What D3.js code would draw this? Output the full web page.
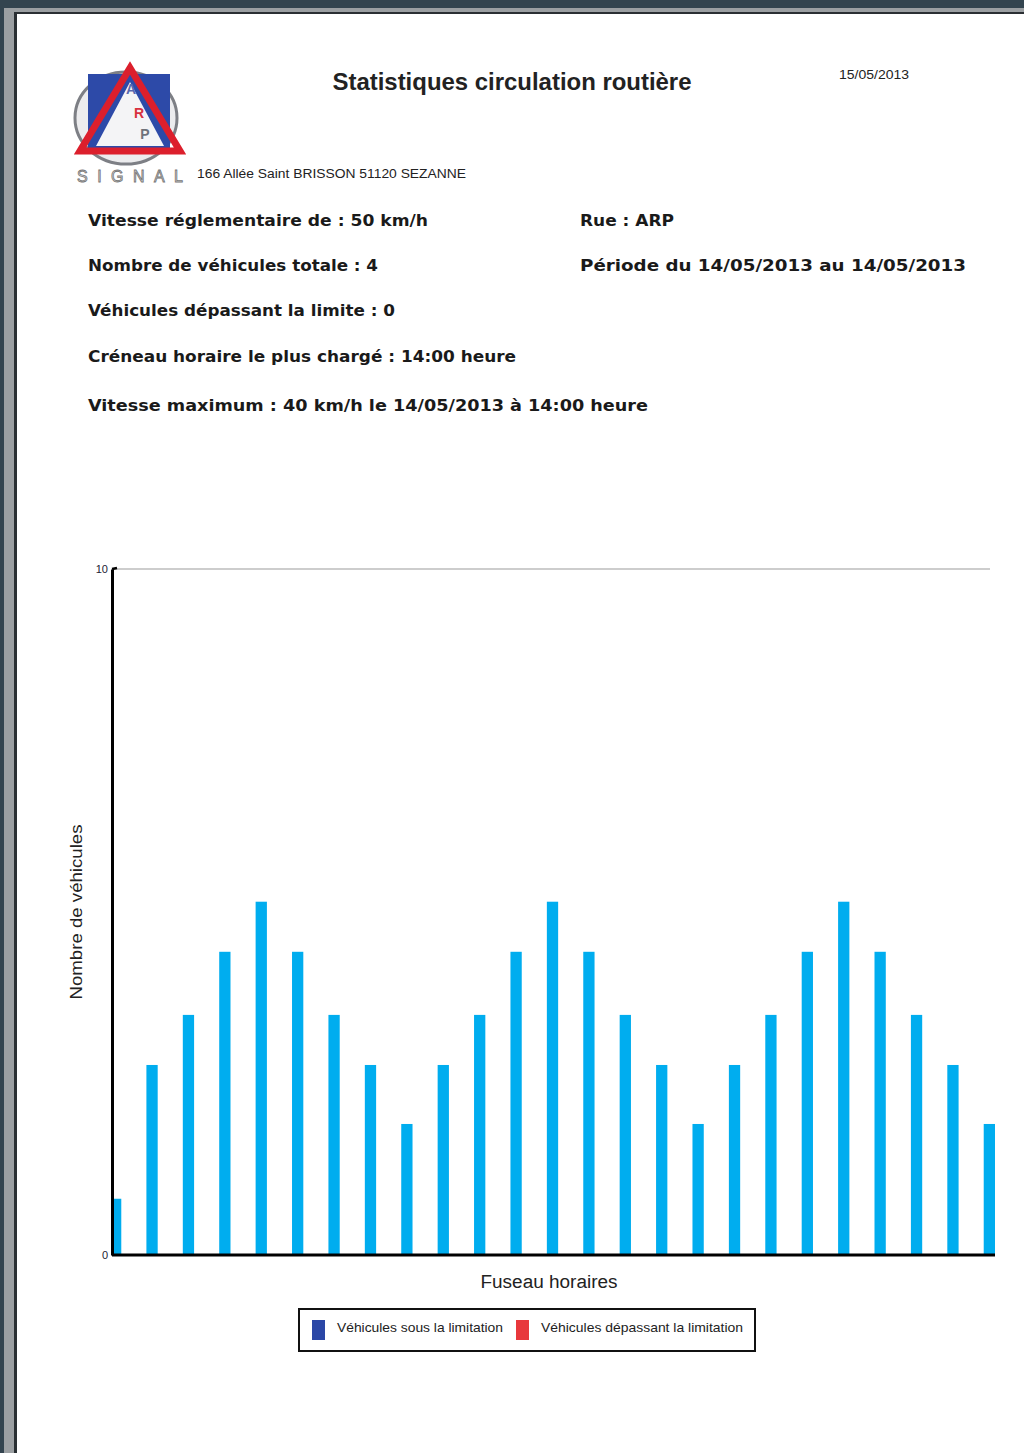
<!DOCTYPE html>
<html>
<head>
<meta charset="utf-8">
<script src="https://cdn.jsdelivr.net/npm/d3@7"></script>
<style>
  body { margin: 0; background: #33444f; }
  svg { display: block; }
</style>
</head>
<body>
<svg id="chart"></svg>
<script>
// hours of the day (fuseau horaire), one bar each
const hours = ['00h', '01h', '02h', '03h', '04h', '05h', '06h', '07h', '08h', '09h', '10h', '11h', '12h',
  '13h', '14h', '15h', '16h', '17h', '18h', '19h', '20h', '21h', '22h', '23h', '24h'];
// vehicles under the limit, per hour
const sousLimite = [0.82, 2.77, 3.5, 4.42, 5.15, 4.42, 3.5, 2.77, 1.91, 2.77, 3.5, 4.42, 5.15,
  4.42, 3.5, 2.77, 1.91, 2.77, 3.5, 4.42, 5.15, 4.42, 3.5, 2.77, 1.91];
const yTicks = [0, 10];

const infoLeft = [
  'Vitesse réglementaire de : 50 km/h',
  'Nombre de véhicules totale : 4',
  'Véhicules dépassant la limite : 0',
  'Créneau horaire le plus chargé : 14:00 heure',
  'Vitesse maximum : 40 km/h le 14/05/2013 à 14:00 heure'
];
const infoRight = ['Rue : ARP', 'Période du 14/05/2013 au 14/05/2013'];
const legendItems = [
  { label: 'Véhicules sous la limitation', color: '#2b47a6' },
  { label: 'Véhicules dépassant la limitation', color: '#e8383c' }
];

const width = 1024;
const height = 1453;

const svg = d3.select('#chart').attr('width', width).attr('height', height);

/* page frame */
svg.append('rect').attr('x', 4).attr('y', 8).attr('width', width).attr('height', height).attr('fill', '#9b9fa2');
svg.append('rect').attr('x', 14).attr('y', 12).attr('width', width).attr('height', height).attr('fill', '#2a2f33');
svg.append('rect').attr('x', 17).attr('y', 14).attr('width', width).attr('height', height).attr('fill', '#fff');

/* logo */
const logo = svg.append('g');
logo.append('ellipse').attr('cx', 126).attr('cy', 118).attr('rx', 51).attr('ry', 46)
  .attr('fill', '#ececee').attr('stroke', '#7d7f85').attr('stroke-width', 3);
logo.append('rect').attr('x', 88).attr('y', 74).attr('width', 82).attr('height', 74).attr('fill', '#2d4aa8');
logo.append('path').attr('d', 'M130,82 L96,146 L164,146 Z').attr('fill', '#f4f4f6');
logo.append('path').attr('d', 'M130,68 L80,151 L180,151 Z')
  .attr('fill', 'none').attr('stroke', '#dc1f2c').attr('stroke-width', 7).attr('stroke-linejoin', 'miter');
const letters = [
  { t: 'A', x: 131, y: 94, c: '#5868b0' },
  { t: 'R', x: 139, y: 118, c: '#d83040' },
  { t: 'P', x: 145, y: 139, c: '#6f727a' }
];
logo.selectAll('text.l').data(letters).join('text').attr('class', 'l')
  .attr('x', (d) => d.x).attr('y', (d) => d.y).text((d) => d.t)
  .attr('font-family', 'Liberation Sans, Arial').attr('font-weight', 'bold').attr('font-size', 14)
  .attr('text-anchor', 'middle').attr('fill', (d) => d.c);
logo.append('text').attr('x', 77).attr('y', 182).text('SIGNAL')
  .attr('font-family', 'Liberation Sans, Arial').attr('font-size', 16)
  .attr('fill', '#d8d8d8').attr('stroke', '#777').attr('stroke-width', 0.8)
  .attr('textLength', 106).attr('lengthAdjust', 'spacing');

/* header */
svg.append('text').attr('x', 512).attr('y', 90).attr('text-anchor', 'middle')
  .attr('font-family', 'Liberation Sans Narrow, Liberation Sans, Arial').attr('font-weight', 'bold').attr('font-size', 24)
  .attr('fill', '#222').attr('textLength', 359).attr('lengthAdjust', 'spacingAndGlyphs')
  .text('Statistiques circulation routière');
svg.append('text').attr('x', 839).attr('y', 79)
  .attr('font-family', 'Liberation Sans, Arial').attr('font-size', 12)
  .attr('fill', '#222').attr('textLength', 70).attr('lengthAdjust', 'spacingAndGlyphs')
  .text('15/05/2013');
svg.append('text').attr('x', 197).attr('y', 178)
  .attr('font-family', 'Liberation Sans, Arial').attr('font-size', 12)
  .attr('fill', '#222').attr('textLength', 269).attr('lengthAdjust', 'spacingAndGlyphs')
  .text('166 Allée Saint BRISSON 51120 SEZANNE');

/* info lines */
const infoY = [226, 271, 316, 362, 411];
const infoLeftW = [340, 290, 307, 428, 560];
const infoRightW = [94, 386];
svg.append('g').selectAll('text').data(infoLeft).join('text')
  .attr('x', 88).attr('y', (d, i) => infoY[i])
  .attr('font-family', 'DejaVu Sans, Verdana').attr('font-weight', 'bold').attr('font-size', 16)
  .attr('textLength', (d, i) => infoLeftW[i]).attr('lengthAdjust', 'spacingAndGlyphs')
  .attr('fill', '#1a1a1a').text((d) => d);
svg.append('g').selectAll('text').data(infoRight).join('text')
  .attr('x', 580).attr('y', (d, i) => infoY[i])
  .attr('font-family', 'DejaVu Sans, Verdana').attr('font-weight', 'bold').attr('font-size', 16)
  .attr('textLength', (d, i) => infoRightW[i]).attr('lengthAdjust', 'spacingAndGlyphs')
  .attr('fill', '#1a1a1a').text((d) => d);

/* scales */
const xScale = d3.scaleBand().domain(hours).range([110, 995]).paddingInner(0.69).paddingOuter(0);
const yScale = d3.scaleLinear().domain([0, 10]).range([1255, 569]);

svg.append('clipPath').attr('id', 'plot')
  .append('rect').attr('x', 113).attr('y', 560).attr('width', 900).attr('height', 700);

/* grid line at top */
svg.append('line')
  .attr('x1', 113).attr('x2', 990)
  .attr('y1', yScale(10)).attr('y2', yScale(10))
  .attr('stroke', '#bdbdbd').attr('stroke-width', 1.5);

/* bars */
svg.append('g').attr('clip-path', 'url(#plot)')
  .selectAll('rect').data(sousLimite).join('rect')
  .attr('x', (d, i) => xScale(hours[i]))
  .attr('y', (d) => yScale(d))
  .attr('width', xScale.bandwidth())
  .attr('height', (d) => yScale(0) - yScale(d))
  .attr('fill', '#00adef');

/* axes */
const yAxis = d3.axisLeft(yScale).tickValues(yTicks).tickSize(0).tickPadding(4);
const yG = svg.append('g').attr('transform', 'translate(112,0)').call(yAxis);
yG.select('.domain').attr('stroke', '#000').attr('stroke-width', 3);
yG.selectAll('text').attr('font-family', 'Liberation Sans, Arial').attr('font-size', 11).attr('fill', '#223');
svg.append('line').attr('x1', 112).attr('x2', 117).attr('y1', yScale(10)).attr('y2', yScale(10) - 1)
  .attr('stroke', '#000').attr('stroke-width', 2.5);

const xAxis = d3.axisBottom(xScale).tickSize(0).tickFormat('');
const xG = svg.append('g').attr('transform', `translate(0,${yScale(0)})`).call(xAxis);
xG.select('.domain').attr('d', 'M112,0H995').attr('stroke', '#000').attr('stroke-width', 3);

/* axis titles */
svg.append('text').attr('x', 549).attr('y', 1288).attr('text-anchor', 'middle')
  .attr('font-family', 'Liberation Sans, Arial').attr('font-size', 18).attr('fill', '#222')
  .attr('textLength', 137).attr('lengthAdjust', 'spacingAndGlyphs')
  .text('Fuseau horaires');
svg.append('text').attr('transform', 'translate(82,912) rotate(-90)').attr('text-anchor', 'middle')
  .attr('font-family', 'Liberation Sans, Arial').attr('font-size', 17).attr('fill', '#222')
  .attr('textLength', 175).attr('lengthAdjust', 'spacingAndGlyphs')
  .text('Nombre de véhicules');

/* legend */
const legend = svg.append('g');
legend.append('rect').attr('x', 299).attr('y', 1309).attr('width', 456).attr('height', 42)
  .attr('fill', '#fff').attr('stroke', '#111').attr('stroke-width', 2);
const legendX = [312, 516];
const legendW = [166, 202];
legend.selectAll('g.item').data(legendItems).join('g').attr('class', 'item')
  .each(function (d, i) {
    const g = d3.select(this);
    g.append('rect').attr('x', legendX[i]).attr('y', 1320).attr('width', 13).attr('height', 20).attr('fill', d.color);
    g.append('text').attr('x', legendX[i] + 25).attr('y', 1332)
      .attr('font-family', 'Liberation Sans, Arial').attr('font-size', 13).attr('fill', '#222')
      .attr('textLength', legendW[i]).attr('lengthAdjust', 'spacingAndGlyphs')
      .text(d.label);
  });
</script>
</body>
</html>
